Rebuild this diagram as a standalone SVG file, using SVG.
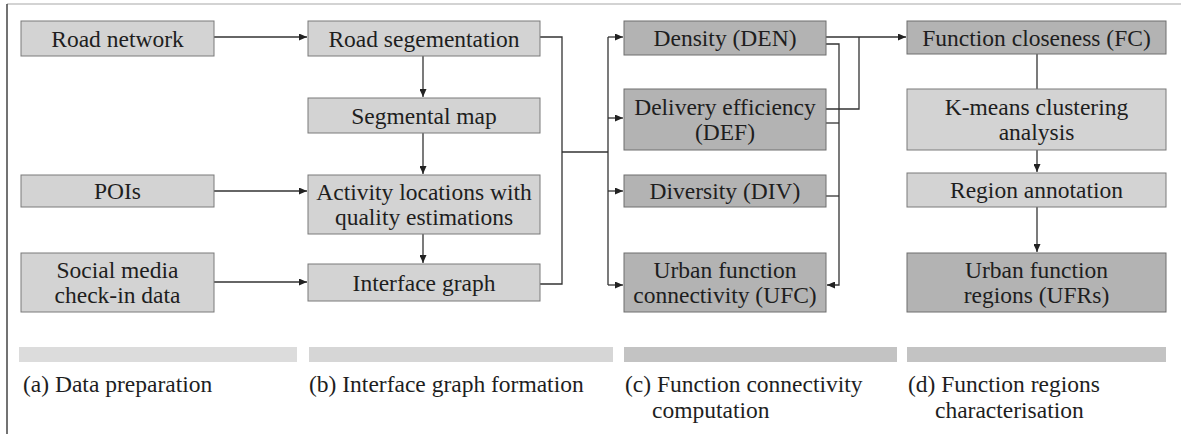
<svg xmlns="http://www.w3.org/2000/svg" width="1181" height="434" viewBox="0 0 1181 434">
<defs>
<marker id="arr" markerWidth="9" markerHeight="7" refX="8" refY="3.5" orient="auto" markerUnits="userSpaceOnUse">
<path d="M0,0 L8,3.5 L0,7 z" fill="#222"/>
</marker>
<style>
.lt{fill:#d3d3d3;stroke:#7a7a7a;stroke-width:1}
.dk{fill:#b3b3b3;stroke:#6e6e6e;stroke-width:1}
text{font-family:"Liberation Serif","Times New Roman",serif;font-size:23.5px;fill:#1e1e1e}
.c{text-anchor:middle}
.cn{fill:none;stroke:#333;stroke-width:1.3}
</style>
</defs>
<rect width="1181" height="434" fill="#fff"/>
<line x1="7" y1="4" x2="1181" y2="4" stroke="#c4c4c4" stroke-width="1.5"/>
<line x1="7" y1="4" x2="7" y2="434" stroke="#444" stroke-width="1.5"/>

<g id="connectors">
<path class="cn" d="M214,37 H307" marker-end="url(#arr)"/>
<path class="cn" d="M214,191 H307" marker-end="url(#arr)"/>
<path class="cn" d="M214,282 H307" marker-end="url(#arr)"/>
<path class="cn" d="M423,56 V97" marker-end="url(#arr)"/>
<path class="cn" d="M423,133 V174" marker-end="url(#arr)"/>
<path class="cn" d="M423,234 V263" marker-end="url(#arr)"/>
<path class="cn" d="M540,37 H562 V284 H540"/>
<path class="cn" d="M562,152 H608"/>
<path class="cn" d="M608,37 V285"/>
<path class="cn" d="M608,37 H623" marker-end="url(#arr)"/>
<path class="cn" d="M608,118 H623" marker-end="url(#arr)"/>
<path class="cn" d="M608,191 H623" marker-end="url(#arr)"/>
<path class="cn" d="M608,285 H623" marker-end="url(#arr)"/>
<path class="cn" d="M826,37 H906" marker-end="url(#arr)"/>
<path class="cn" d="M826,44 H839 V285 H827" marker-end="url(#arr)"/>
<path class="cn" d="M826,109 H859 V37"/>
<path class="cn" d="M826,123 H839"/>
<path class="cn" d="M826,196 H839"/>
<path class="cn" d="M1037,54 V89"/>
<path class="cn" d="M1037,150 V172" marker-end="url(#arr)"/>
<path class="cn" d="M1037,207 V252" marker-end="url(#arr)"/>
</g>

<g id="road-network"><rect class="lt" x="21" y="21" width="193" height="35"/><text class="c" x="117.5" y="46.5">Road network</text></g>
<g id="pois"><rect class="lt" x="21" y="175" width="193" height="32"/><text class="c" x="117.5" y="199">POIs</text></g>
<g id="social-media"><rect class="lt" x="21" y="253" width="193" height="59"/><text class="c" x="117.5" y="278">Social media</text><text class="c" x="117.5" y="303">check-in data</text></g>

<g id="road-segmentation"><rect class="lt" x="308" y="21" width="232" height="35"/><text class="c" x="424" y="46.5">Road segementation</text></g>
<g id="segmental-map"><rect class="lt" x="308" y="98" width="232" height="35"/><text class="c" x="424" y="123.5">Segmental map</text></g>
<g id="activity-locations"><rect class="lt" x="308" y="175" width="232" height="59"/><text class="c" x="424" y="200">Activity locations with</text><text class="c" x="424" y="225">quality estimations</text></g>
<g id="interface-graph"><rect class="lt" x="308" y="264" width="232" height="37"/><text class="c" x="424" y="290.5">Interface graph</text></g>

<g id="density"><rect class="dk" x="624" y="21" width="202" height="34"/><text class="c" x="725" y="46">Density (DEN)</text></g>
<g id="delivery-efficiency"><rect class="dk" x="624" y="89" width="202" height="61"/><text class="c" x="725" y="115">Delivery efficiency</text><text class="c" x="725" y="140">(DEF)</text></g>
<g id="diversity"><rect class="dk" x="624" y="175" width="202" height="32"/><text class="c" x="725" y="199">Diversity (DIV)</text></g>
<g id="ufc"><rect class="dk" x="624" y="253" width="202" height="59"/><text class="c" x="725" y="278">Urban function</text><text class="c" x="725" y="303">connectivity (UFC)</text></g>

<g id="function-closeness"><rect class="dk" x="907" y="21" width="259" height="33"/><text class="c" x="1036.5" y="45.5">Function closeness (FC)</text></g>
<g id="kmeans"><rect class="lt" x="907" y="89" width="259" height="61"/><text class="c" x="1036.5" y="115">K-means clustering</text><text class="c" x="1036.5" y="140">analysis</text></g>
<g id="region-annotation"><rect class="lt" x="907" y="173" width="259" height="34"/><text class="c" x="1036.5" y="198">Region annotation</text></g>
<g id="ufrs"><rect class="dk" x="907" y="253" width="259" height="59"/><text class="c" x="1036.5" y="278">Urban function</text><text class="c" x="1036.5" y="303">regions (UFRs)</text></g>

<g id="stage-bars">
<rect x="19" y="347" width="278" height="15" fill="#dcdcdc"/>
<rect x="309" y="347" width="304" height="15" fill="#d6d6d6"/>
<rect x="624" y="347" width="273" height="15" fill="#c3c3c3"/>
<rect x="907" y="347" width="259" height="15" fill="#c3c3c3"/>
</g>
<g id="stage-labels">
<text x="23" y="392">(a) Data preparation</text>
<text x="309" y="392">(b) Interface graph formation</text>
<text x="625" y="392">(c) Function connectivity</text>
<text x="652" y="418">computation</text>
<text x="908" y="392">(d) Function regions</text>
<text x="935" y="418">characterisation</text>
</g>
</svg>
